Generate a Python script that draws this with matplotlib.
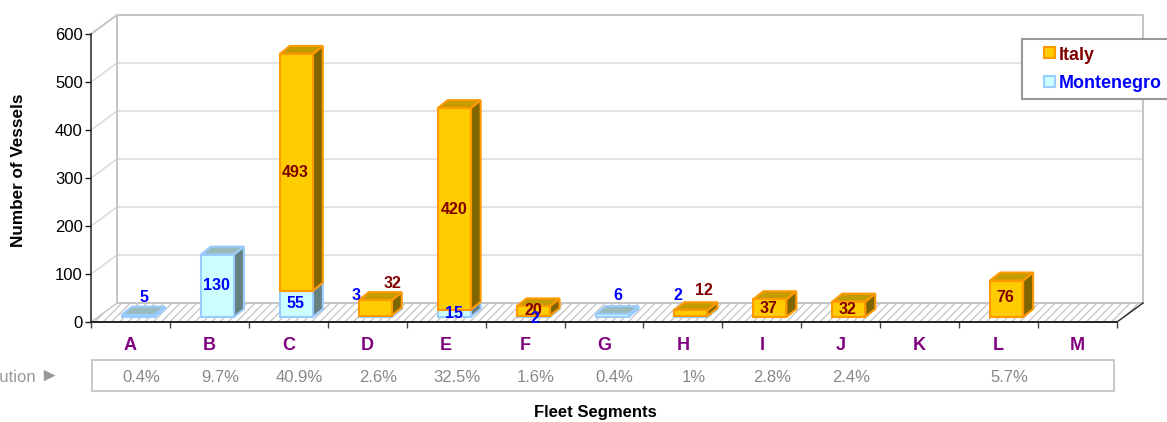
import numpy as np
import matplotlib
matplotlib.use('Agg')
import matplotlib.pyplot as plt
from matplotlib.patches import Rectangle
from matplotlib.transforms import Affine2D

plt.rcParams['font.family'] = ['Liberation Sans', 'DejaVu Sans']
plt.rcParams['hatch.linewidth'] = 1.0

# data
segments = ['A', 'B', 'C', 'D', 'E', 'F', 'G', 'H', 'I', 'J', 'K', 'L', 'M']
italy = [0, 0, 493, 32, 420, 20, 0, 12, 37, 32, 0, 76, 0]
montenegro = [5, 130, 55, 3, 15, 2, 6, 2, 0, 0, 0, 0, 0]
distribution = ['0.4%', '9.7%', '40.9%', '2.6%', '32.5%', '1.6%', '0.4%', '1%', '2.8%', '2.4%', '', '5.7%', '']
yticks = [0, 100, 200, 300, 400, 500, 600]

# label nudges in pixels (right, up) from the middle of the bar front
italy_nudge = {2: (-1, 0), 3: (17, 24), 4: (0, 0), 5: (0, 1), 7: (13, 23), 8: (-1, 0), 9: (-1, 0), 11: (-1, 1)}
mont_nudge = {0: (6, 18), 1: (-1, 0), 2: (-1, 0), 3: (-19, 21), 4: (0, 0), 5: (2, -2), 6: (6, 20), 7: (-13, 21)}

W, H = 1167, 422
fig = plt.figure(figsize=(W / 100, H / 100), dpi=100)
ax = fig.add_axes([91 / W, (H - 322) / H, 1026 / W, 288 / H])
ax.set_xlim(0, 13)
ax.set_ylim(0, 600)

px_x = 13 / 1026
px_y = 600 / 288
# whole-figure pixel coords, y going down like the screenshot
pix = Affine2D().scale(1, -1).translate(0, H)

# back wall, side wall, floor
wall_dx, wall_dy = 26 * px_x, 19 * px_y
GRID = '#d8d8d8'
WALL = '#c4c4c4'
ax.fill([0, 0, wall_dx, 13 + wall_dx, 13, 0], [0, 600, 600 + wall_dy, 600 + wall_dy, 0, 0],
        color='white', zorder=0, clip_on=False)
for v in yticks[1:-1]:
    ax.plot([0, wall_dx, 13 + wall_dx], [v, v + wall_dy, v + wall_dy], color=GRID, lw=1, zorder=1, clip_on=False)
ax.plot([0, wall_dx, 13 + wall_dx, 13 + wall_dx], [600, 600 + wall_dy, 600 + wall_dy, wall_dy],
        color=WALL, lw=1.4, zorder=1, clip_on=False)
ax.plot([wall_dx, wall_dx], [wall_dy, 600 + wall_dy], color=WALL, lw=1.4, zorder=1, clip_on=False)
ax.fill([0, wall_dx, 13 + wall_dx, 13], [0, wall_dy, wall_dy, 0], facecolor='white', edgecolor='#c8c8c8',
        hatch='////', lw=0, zorder=1, clip_on=False)
ax.plot([wall_dx, 13 + wall_dx], [wall_dy, wall_dy], color=WALL, lw=1.4, zorder=2, clip_on=False)
ax.plot([0, wall_dx], [0, wall_dy], color=WALL, lw=1, zorder=2, clip_on=False)
ax.plot([13, 13 + wall_dx], [0, wall_dy], color='#222222', lw=1, zorder=2, clip_on=False)

# 3d bars
bar_w = 33 * px_x
bar_dx, bar_dy = 10 * px_x, 8 * px_y
base = 5 * px_y
shift = 8 * px_x
styles = {
    'Italy': dict(front='#ffcc00', edge='#ff9900', top='#c49c00', side='#806600', text='#800000'),
    'Montenegro': dict(front='#ccffff', edge='#99ccff', top='#99bbbb', side='#668080', text='#0000ff'),
}


def draw_box(i, bottom, value, st, z):
    x0 = i + 0.5 + shift - bar_w / 2
    x1 = x0 + bar_w
    y0 = base + bottom
    y1 = y0 + value
    kw = dict(edgecolor=st['edge'], lw=1.5, joinstyle='miter', clip_on=False, zorder=z)
    ax.fill([x1, x1 + bar_dx, x1 + bar_dx, x1], [y0, y0 + bar_dy, y1 + bar_dy, y1], facecolor=st['side'], **kw)
    ax.fill([x0, x1, x1 + bar_dx, x0 + bar_dx], [y1, y1, y1 + bar_dy, y1 + bar_dy], facecolor=st['top'], **kw)
    ax.fill([x0, x1, x1, x0], [y0, y0, y1, y1], facecolor=st['front'], **kw)


for i in range(len(segments)):
    if montenegro[i]:
        draw_box(i, 0, montenegro[i], styles['Montenegro'], 10 + i)
    if italy[i]:
        draw_box(i, montenegro[i], italy[i], styles['Italy'], 10.5 + i)

# value labels
for i, (dx, dy) in mont_nudge.items():
    ax.annotate(str(montenegro[i]), (i + 0.5 + shift, base + montenegro[i] / 2), xytext=(dx * 0.72, dy * 0.72),
                textcoords='offset points', ha='center', va='center', fontsize=11.5, fontweight='bold',
                color=styles['Montenegro']['text'], zorder=40, annotation_clip=False)
for i, (dx, dy) in italy_nudge.items():
    ax.annotate(str(italy[i]), (i + 0.5 + shift, base + montenegro[i] + italy[i] / 2), xytext=(dx * 0.72, dy * 0.72),
                textcoords='offset points', ha='center', va='center', fontsize=11.5, fontweight='bold',
                color=styles['Italy']['text'], zorder=39, annotation_clip=False)

# axes
for s in ['top', 'right']:
    ax.spines[s].set_visible(False)
ax.spines['left'].set_color('#222222')
ax.spines['bottom'].set_color('#222222')
ax.spines['left'].set_linewidth(1.1)
ax.spines['bottom'].set_linewidth(1.4)
ax.spines['bottom'].set_zorder(30)
ax.set_yticks(yticks)
ax.set_xticks(np.arange(14))
ax.set_xticklabels([])
ax.tick_params(axis='y', length=4, width=1, color='#222222', labelsize=12, pad=2)
ax.tick_params(axis='x', length=4, width=1, color='#444444')
ax.patch.set_visible(False)

for i, name in enumerate(segments):
    ax.annotate(name, (i + 0.5, 0), xytext=(0, -23 * 0.72), textcoords='offset points', ha='center', va='center',
                fontsize=13, fontweight='bold', color='#800080', annotation_clip=False)

# distribution strip
fig.add_artist(Rectangle((92, 360), 1022, 31, transform=pix, facecolor='white', edgecolor='#c8c8c8', lw=1.4, zorder=-1))
for i, txt in enumerate(distribution):
    ax.annotate(txt, (i + 0.5, 0), xytext=(10.5 * 0.72, -55 * 0.72), textcoords='offset points', ha='center',
                va='center', fontsize=12, color='#888888', annotation_clip=False)
fig.text(36, 377, 'Distribution', transform=pix, ha='right', va='center', fontsize=12, color='#999999')
fig.text(49, 376, '\u25ba', transform=pix, ha='center', va='center', fontsize=14, color='#999999')

ax.set_ylabel('')
fig.text(19, 170, 'Number of Vessels', transform=pix, rotation=90, ha='center', va='center', fontsize=12.3, fontweight='bold')
fig.text(595, 412, 'Fleet Segments', transform=pix, ha='center', va='center', fontsize=12, fontweight='bold')

# legend
fig.add_artist(Rectangle((1022, 39), 160, 60, transform=pix, facecolor='white', edgecolor='#999999', lw=1.5, zorder=50))
fig.add_artist(Rectangle((1044, 47), 11, 11, transform=pix, facecolor=styles['Italy']['front'],
                         edgecolor=styles['Italy']['edge'], lw=1.5, zorder=51))
fig.add_artist(Rectangle((1044, 76), 11, 11, transform=pix, facecolor=styles['Montenegro']['front'],
                         edgecolor=styles['Montenegro']['edge'], lw=1.5, zorder=51))
fig.text(1059, 56, 'Italy', transform=pix, ha='left', va='center', fontsize=12.9, fontweight='bold',
         color=styles['Italy']['text'], zorder=52)
fig.text(1059, 84, 'Montenegro', transform=pix, ha='left', va='center', fontsize=12.9, fontweight='bold',
         color=styles['Montenegro']['text'], zorder=52)

fig.savefig('out.png', dpi=100)
